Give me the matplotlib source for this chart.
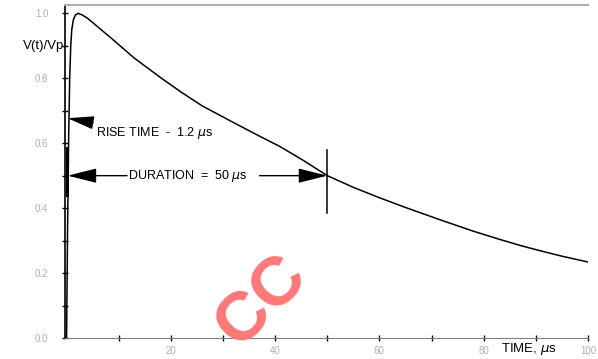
import matplotlib
matplotlib.use("Agg")
import matplotlib.pyplot as plt
import numpy as np

# impulse waveform (time in us, V/Vp)
time_us = [0, 0.2, 0.4, 0.6, 0.8, 1.0, 1.3, 1.7, 2.2, 3, 4, 5.5, 8.6, 13,
           18.2, 22, 26, 31.5, 36, 41, 45.5, 50, 55, 60, 65, 72, 78, 83,
           87, 91, 95, 100]
v_ratio = [0, 0.35, 0.62, 0.80, 0.90, 0.95, 0.98, 0.995, 1.0, 0.995, 0.985,
           0.965, 0.923, 0.862, 0.80, 0.757, 0.715, 0.668, 0.630, 0.589,
           0.546, 0.50, 0.464, 0.432, 0.402, 0.362, 0.329, 0.304, 0.285,
           0.268, 0.252, 0.234]

y_ticks = [0.0, 0.2, 0.4, 0.6, 0.8, 1.0]
y_labels = ["0.0", "0.2", "0.4", "0.6", "0.8", "1.0"]
x_ticks = [20, 40, 60, 80, 100]
x_labels = ["20", "40", "60", "80", "100"]

rise_time = 1.2
duration = 50

plt.rcParams['font.family'] = ['Liberation Sans', 'DejaVu Sans']

fig = plt.figure(figsize=(5.98, 3.59), dpi=100)
ax = fig.add_axes([0.1087, 0.0585, 0.8746, 0.927])

ax.plot(time_us, v_ratio, color="black", lw=1.1)
ax.set_xlim(-0.3, 100)
ax.set_ylim(0, 1.025)

ax.spines['right'].set_visible(False)
ax.spines['top'].set_color("#b0b0b0")
ax.spines['top'].set_linewidth(1.5)
ax.spines['bottom'].set_color("#808080")
ax.spines['left'].set_linewidth(1.2)

ax.set_yticks(np.arange(0, 1.01, 0.1), minor=True)
ax.set_yticks(y_ticks)
ax.set_yticklabels(y_labels)
ax.set_xticks(np.arange(10, 101, 10), minor=True)
ax.set_xticks(x_ticks)
ax.set_xticklabels(x_labels)
ax.tick_params(which="both", direction="inout", length=4, width=1,
               labelsize=7, labelcolor="#b0b0b0", color="black")
ax.tick_params(axis="y", pad=10)

# axis titles placed like the original
ax.text(-0.5, 0.9, "V(t)/Vp", ha="right", va="center", fontsize=9.5)
ax.text(0.94, -0.033, "TIME, $\\mu$s", transform=ax.transAxes,
        ha="right", va="center", fontsize=9.5)

arrow = dict(arrowstyle="-|>,head_length=1.8,head_width=0.45",
             color="black", lw=1, shrinkA=0, shrinkB=0)

# rise time note
ax.annotate("RISE TIME  -  1.2 $\\mu$s", xy=(0.2, 0.677), xytext=(5.6, 0.63),
            fontsize=9, va="center", ha="left", arrowprops=arrow)

# duration note
ax.text(11.8, 0.50, "DURATION  =  50 $\\mu$s", fontsize=9, va="center", ha="left")
ax.annotate("", xy=(0.2, 0.50), xytext=(11.6, 0.50), arrowprops=arrow)
ax.annotate("", xy=(duration, 0.50), xytext=(37.0, 0.50), arrowprops=arrow)
ax.plot([duration, duration], [0.385, 0.58], color="black", lw=1.1)
ax.plot([0, 0], [0.44, 0.585], color="black", lw=2.2, clip_on=False)

# watermark
ax.text(0.375, 0.11, "CC", transform=ax.transAxes, rotation=45,
        fontsize=50, fontweight="bold", color="#ff7878",
        ha="center", va="center")

fig.savefig("out.png", dpi=100)
